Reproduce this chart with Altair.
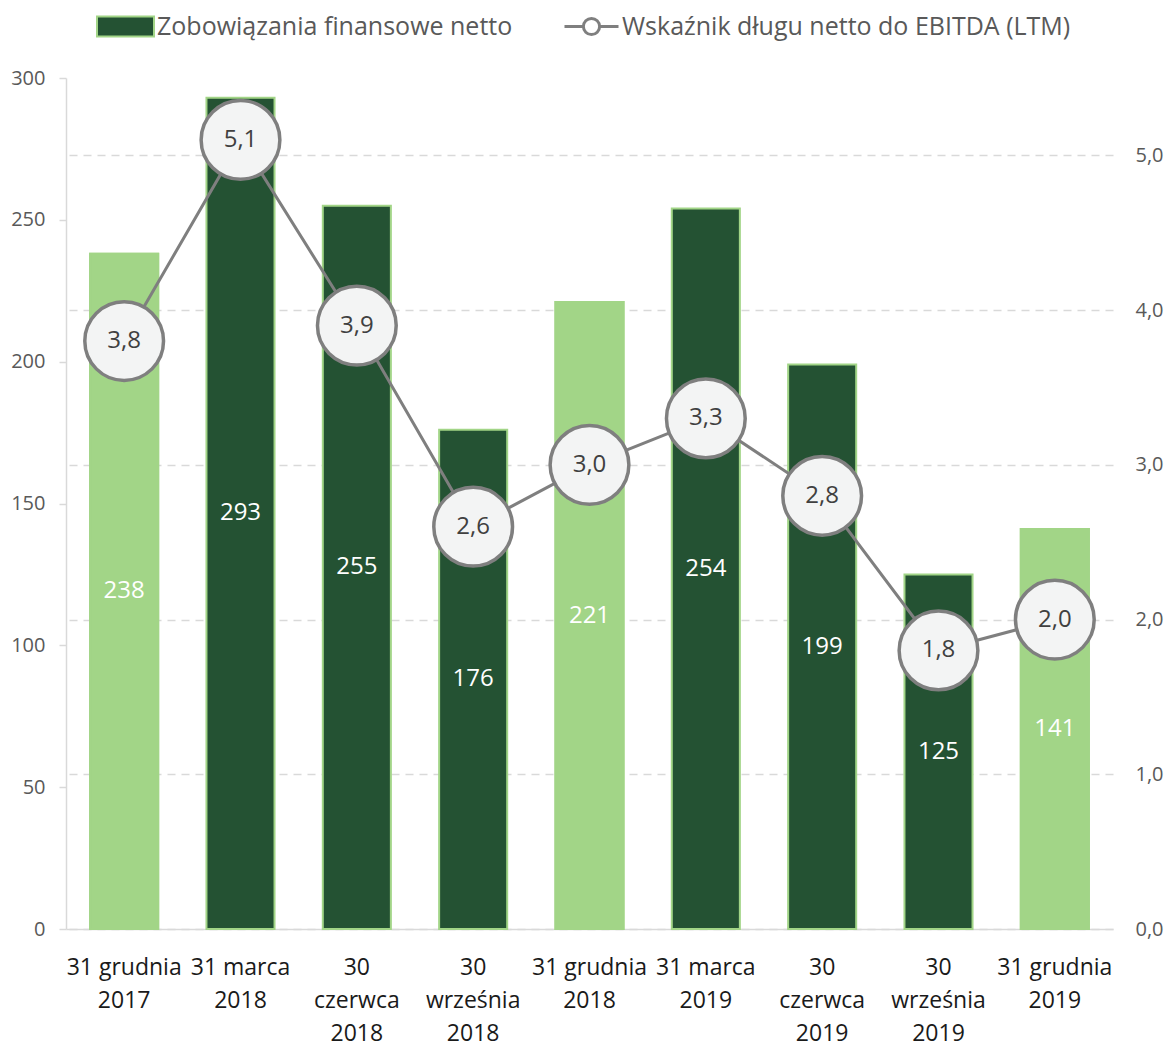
import altair as alt
import pandas as pd

# Reporting dates (the "|" marks where the axis label wraps)
okresy = [
    "31 grudnia|2017",
    "31 marca|2018",
    "30|czerwca|2018",
    "30|września|2018",
    "31 grudnia|2018",
    "31 marca|2019",
    "30|czerwca|2019",
    "30|września|2019",
    "31 grudnia|2019",
]
# Net financial liabilities (left axis)
zobowiazania = [238, 293, 255, 176, 221, 254, 199, 125, 141]
# Net debt / EBITDA (LTM) (right axis)
wskaznik = [3.8, 5.1, 3.9, 2.6, 3.0, 3.3, 2.8, 1.8, 2.0]
# Year-end reporting dates are shown in the lighter green
koniec_roku = [True, False, False, False, True, False, False, False, True]

SERIA_SLUPKI = "Zobowiązania finansowe netto"
SERIA_LINIA = "Wskaźnik długu netto do EBITDA (LTM)"

df = pd.DataFrame({
    "okres": okresy,
    "dlug": zobowiazania,
    "wskaznik": wskaznik,
    "koniec_roku": koniec_roku,
    "seria_slupki": SERIA_SLUPKI,
    "seria_linia": SERIA_LINIA,
})

DARK = "#245233"
LIGHT = "#A2D587"
GREY = "#7F7F7F"
FONT = "Open Sans"

x_enc = alt.X(
    "okres:N",
    sort=okresy,
    scale=alt.Scale(paddingInner=0.415, paddingOuter=0.2075),
    axis=alt.Axis(
        title=None,
        labelAngle=0,
        labelExpr="split(datum.label, '|')",
        labelFontSize=23,
        labelColor="#1A1A1A",
        labelLineHeight=33,
        labelPadding=27,
        labelBaseline="top",
        ticks=False,
        domain=True,
        domainColor="#D9D9D9",
        domainWidth=1.5,
    ),
)

left_axis = alt.Axis(
    title=None,
    values=[0, 50, 100, 150, 200, 250, 300],
    grid=False,
    domain=True,
    domainColor="#D9D9D9",
    domainWidth=1.5,
    ticks=True,
    tickSize=7,
    tickColor="#D9D9D9",
    tickWidth=1.5,
    labelPadding=14,
    labelFontSize=20,
    labelColor="#595959",
)
y_left_scale = alt.Scale(domain=[0, 300], nice=False)

right_axis = alt.Axis(
    title=None,
    orient="right",
    values=[0, 1, 2, 3, 4, 5],
    labelExpr="replace(format(datum.value, '.1f'), '.', ',')",
    grid=True,
    gridDash=[8, 6],
    gridColor="#D9D9D9",
    gridWidth=1.5,
    domain=False,
    ticks=False,
    labelPadding=22,
    labelFontSize=20,
    labelColor="#595959",
)
y_right_scale = alt.Scale(domain=[0, 5.5], nice=False)

base = alt.Chart(df).encode(x=x_enc)

# Bars: all drawn dark green (legend entry), year-end ones overlaid in light green
bars = base.mark_bar(stroke=LIGHT, strokeWidth=2).encode(
    y=alt.Y("dlug:Q", scale=y_left_scale, axis=left_axis),
    fill=alt.Fill(
        "seria_slupki:N",
        scale=alt.Scale(domain=[SERIA_SLUPKI], range=[DARK]),
        legend=alt.Legend(
            title=None,
            orient="none",
            legendX=30,
            legendY=-81,
            symbolType="M-1,-0.35H1V0.35H-1Z",
            symbolSize=3249,
            symbolStrokeColor=LIGHT,
            symbolStrokeWidth=2,
            labelFontSize=25,
            labelColor="#595959",
            labelOffset=2,
            labelLimit=0,
            padding=0,
        ),
    ),
)
bars_light = base.transform_filter("datum.koniec_roku").mark_bar(
    fill=LIGHT, stroke=LIGHT, strokeWidth=2
).encode(y=alt.Y("dlug:Q", scale=y_left_scale, axis=left_axis))

bar_text = base.transform_calculate(srodek="datum.dlug / 2").mark_text(
    color="white", fontSize=24, baseline="middle"
).encode(
    y=alt.Y("srodek:Q", scale=y_left_scale, axis=left_axis),
    text=alt.Text("dlug:Q"),
)

left = alt.layer(bars, bars_light, bar_text)

# Ratio line with labelled circular markers
line = base.mark_line(strokeWidth=3).encode(
    y=alt.Y("wskaznik:Q", scale=y_right_scale, axis=right_axis),
    stroke=alt.Stroke(
        "seria_linia:N",
        scale=alt.Scale(domain=[SERIA_LINIA], range=[GREY]),
        legend=alt.Legend(
            title=None,
            orient="none",
            legendX=497,
            legendY=-80,
            symbolType="M-1,0H-0.3M0.3,0H1M-0.3,0A0.3,0.3 0 1,1 0.3,0A0.3,0.3 0 1,1 -0.3,0Z",
            symbolSize=2916,
            symbolStrokeWidth=3,
            symbolFillColor="#FFFFFF",
            labelFontSize=25,
            labelColor="#595959",
            labelOffset=2,
            labelLimit=0,
            padding=0,
        ),
    ),
)
points = base.mark_circle(
    fill="#F3F4F4", stroke=GREY, strokeWidth=3.5, size=6200, opacity=1, fillOpacity=1
).encode(y=alt.Y("wskaznik:Q", scale=y_right_scale, axis=right_axis))

point_text = base.transform_calculate(
    etykieta="replace(format(datum.wskaznik, '.1f'), '.', ',')"
).mark_text(color="#404040", fontSize=24, baseline="middle").encode(
    y=alt.Y("wskaznik:Q", scale=y_right_scale, axis=right_axis),
    text="etykieta:N",
)

right = alt.layer(line, points, point_text)

chart = (
    alt.layer(left, right)
    .resolve_scale(y="independent")
    .properties(
        width=1047,
        height=851,
        autosize=alt.AutoSizeParams(type="none"),
        padding={"left": 66, "top": 78, "right": 54, "bottom": 120},
        background="white",
    )
    .configure(font=FONT)
    .configure_view(stroke=None)
)

chart.save("out.html", embed_options={"renderer": "svg", "actions": False})
